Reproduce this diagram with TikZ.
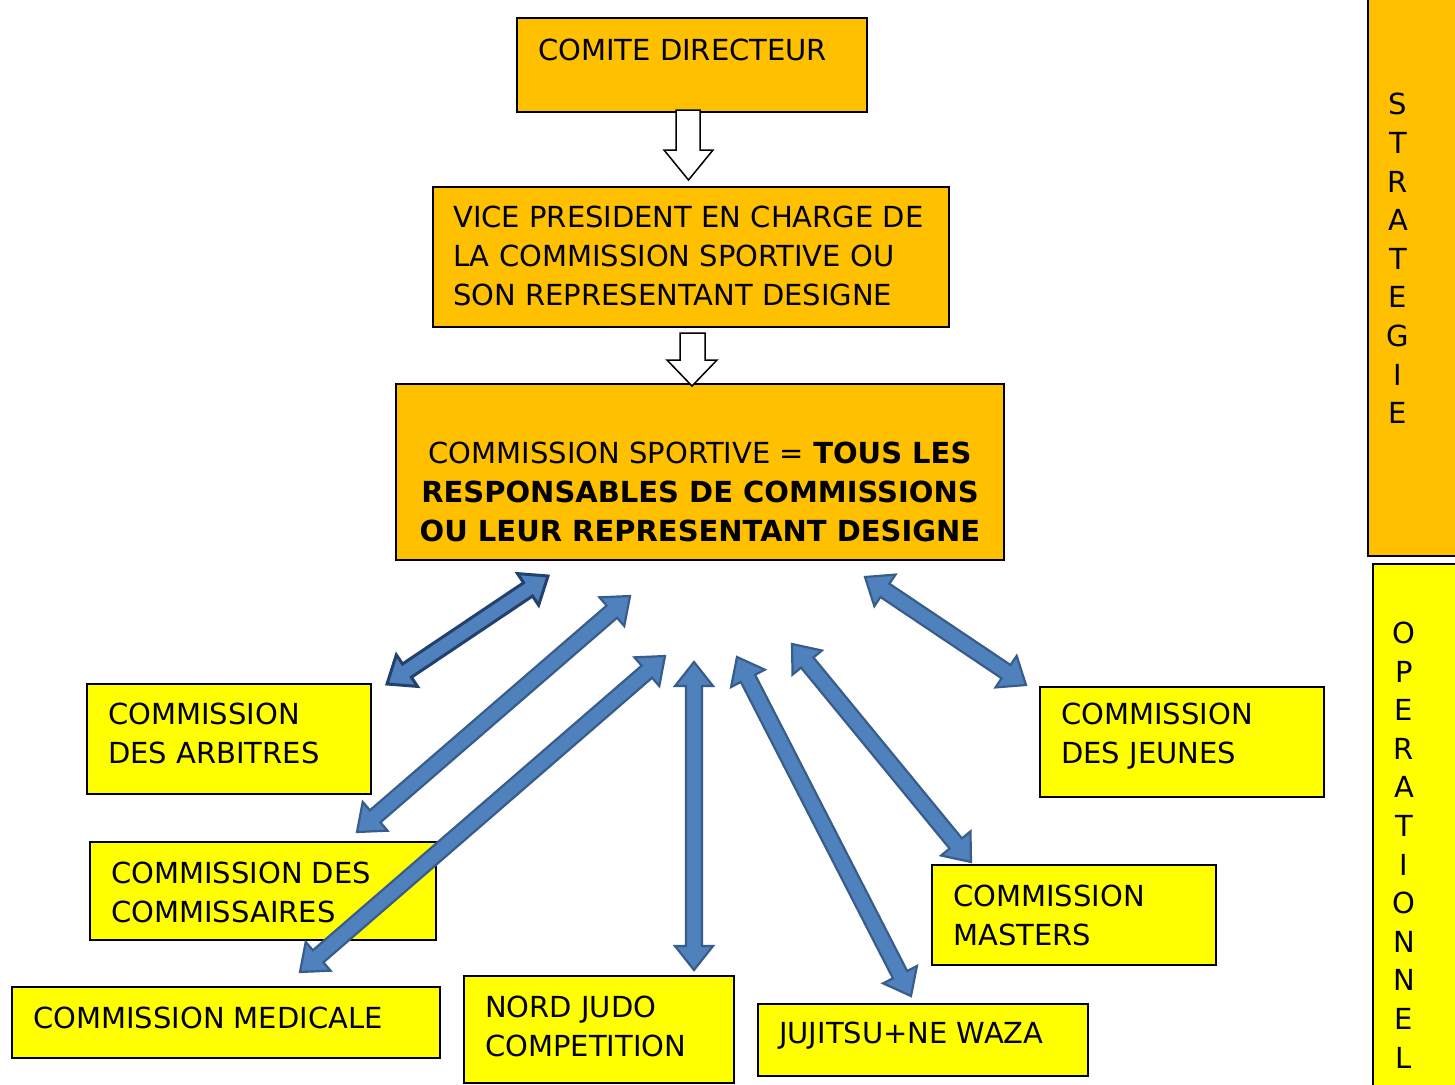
\documentclass[tikz,border=0pt]{standalone}
\usepackage{fontspec}
\setmainfont{DejaVu Sans}
\usetikzlibrary{calc}
\definecolor{orng}{HTML}{FFC000}
\definecolor{yel}{HTML}{FFFF00}
\definecolor{bfill}{HTML}{4F81BD}
\definecolor{bline}{HTML}{385D8A}
\definecolor{bdark}{HTML}{24406C}
\tikzset{
  box/.style={draw=black, line width=1.3pt, inner sep=0pt, outer sep=0pt},
  obox/.style={box, fill=orng},
  ybox/.style={box, fill=yel},
  txt/.style={inner sep=0pt, align=left, anchor=west, font=\fontsize{29}{39}\selectfont},
  vtxt/.style={inner sep=0pt, align=center, font=\fontsize{29}{38.6}\selectfont},
  hollow/.style={draw=black, fill=white, line width=1.5pt, line join=miter},
  blue/.style={fill=bfill, draw=bline, line width=2.2pt, line join=miter}
}
\newcommand{\dblarr}[3][blue]{%
  \coordinate (h1) at ($(#2)!24pt!(#3)$);
  \coordinate (h2) at ($(#3)!24pt!(#2)$);
  \filldraw[#1] (#2) -- ($(h1)!19pt!90:(#3)$) -- ($(h1)!8pt!90:(#3)$)
    -- ($(h2)!8pt!-90:(#2)$) -- ($(h2)!19pt!-90:(#2)$) -- (#3)
    -- ($(h2)!19pt!90:(#2)$) -- ($(h2)!8pt!90:(#2)$)
    -- ($(h1)!8pt!-90:(#3)$) -- ($(h1)!19pt!-90:(#3)$) -- cycle;}
\begin{document}
\begin{tikzpicture}[x=1pt,y=-1pt]
\useasboundingbox (0,0) rectangle (1455,1084);
\clip (0,0) rectangle (1455,1084);
\fill[white] (0,0) rectangle (1455,1084);

% top chain
\node[obox, minimum width=350pt, minimum height=94pt] (cd) at (692,65) {};
\node[txt] (cdt) at (538,50) {COMITE DIRECTEUR};
\node[obox, minimum width=516pt, minimum height=140pt] (vp) at (691,257) {};
\node[txt] (vpt) at (453,256) {VICE PRESIDENT EN CHARGE DE\\LA COMMISSION SPORTIVE OU\\SON REPRESENTANT DESIGNE};
\node[obox, minimum width=608pt, minimum height=176pt] (cs) at (700,472) {};
\node[txt, align=center, anchor=center] (cst) at (700,492) {COMMISSION SPORTIVE = \textbf{TOUS LES}\\\textbf{RESPONSABLES DE COMMISSIONS}\\\textbf{OU LEUR REPRESENTANT DESIGNE}};

% side bars
\node[obox, minimum width=92pt, minimum height=561pt] (strat) at (1414,275.5) {};
\node[vtxt] (stratt) at (1398,258.5) {S\\T\\R\\A\\T\\E\\G\\I\\E};
\node[ybox, minimum width=87pt, minimum height=526pt] (oper) at (1416.5,827) {};
\node[vtxt] (opert) at (1404,845) {O\\P\\E\\R\\A\\T\\I\\O\\N\\N\\E\\L};

% commissions
\node[ybox, minimum width=284pt, minimum height=110pt] (arb) at (229,739) {};
\node[txt] (arbt) at (108,733.5) {COMMISSION\\DES ARBITRES};
\node[ybox, minimum width=346pt, minimum height=98pt] (com) at (263,891) {};
\node[txt] (comt) at (111,892.5) {COMMISSION DES\\COMMISSAIRES};
\node[ybox, minimum width=428pt, minimum height=71pt] (med) at (226,1022.5) {};
\node[txt] (medt) at (33,1018) {COMMISSION MEDICALE};
\node[ybox, minimum width=270pt, minimum height=107pt] (nord) at (599,1029.5) {};
\node[txt] (nordt) at (485,1026.5) {NORD JUDO\\COMPETITION};
\node[ybox, minimum width=330pt, minimum height=72pt] (juj) at (923,1040) {};
\node[txt] (jujt) at (779,1036) {JUJITSU+NE WAZA};
\node[ybox, minimum width=284pt, minimum height=100pt] (mas) at (1074,915) {};
\node[txt] (mast) at (953,915.5) {COMMISSION\\MASTERS};
\node[ybox, minimum width=284pt, minimum height=110pt] (jeu) at (1182,742) {};
\node[txt] (jeut) at (1061,736.5) {COMMISSION\\DES JEUNES};

% hollow arrows
\coordinate (ha) at (688.5,180);
\draw[hollow] (676,110) -- (700,110) -- (700,150) -- (713,150) -- (ha) -- (664,150) -- (676,150) -- cycle;
\coordinate (hb) at (692,386);
\draw[hollow] (680,333) -- (705,333) -- (705,360) -- (717,360) -- (hb) -- (667,360) -- (680,360) -- cycle;

% blue double arrows
\coordinate (a1s) at (548,576); \coordinate (a1e) at (387,684);
\coordinate (a2s) at (630,596); \coordinate (a2e) at (357,832);
\coordinate (a3s) at (665,656); \coordinate (a3e) at (300,972);
\coordinate (a4s) at (694,662); \coordinate (a4e) at (694,970);
\coordinate (a5s) at (737,657); \coordinate (a5e) at (911,996);
\coordinate (a6s) at (792,644); \coordinate (a6e) at (971,862);
\coordinate (a7s) at (865,577); \coordinate (a7e) at (1026,685);
\dblarr[blue, draw=bdark, line width=3pt]{a1s}{a1e}
\dblarr{a2s}{a2e}
\dblarr{a3s}{a3e}
\dblarr{a4s}{a4e}
\dblarr{a5s}{a5e}
\dblarr{a6s}{a6e}
\dblarr{a7s}{a7e}
\end{tikzpicture}
\end{document}
